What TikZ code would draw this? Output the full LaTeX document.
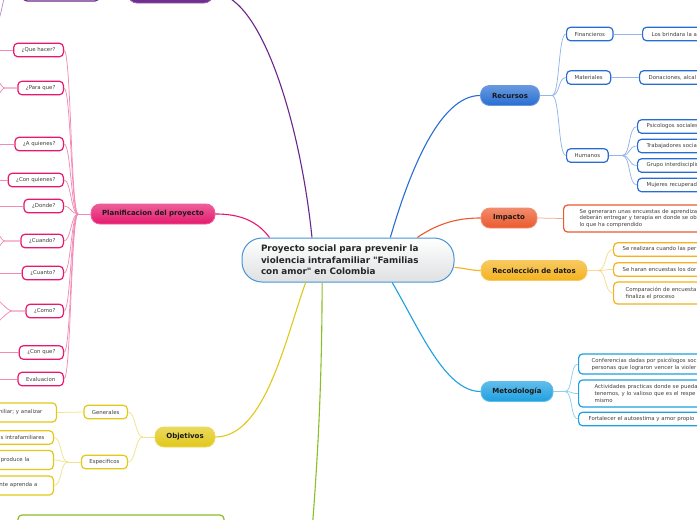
\documentclass[tikz,border=0pt]{standalone}
\usepackage{fontspec}
\setmainfont{DejaVu Sans}
\usetikzlibrary{calc}
\definecolor{mmpurple}{RGB}{106,38,138}
\definecolor{mmpink}{RGB}{230,25,110}
\definecolor{mmblue}{RGB}{40,110,210}
\definecolor{mmorange}{RGB}{235,90,45}
\definecolor{mmamber}{RGB}{245,178,30}
\definecolor{mmsky}{RGB}{30,160,225}
\definecolor{mmyellow}{RGB}{225,200,25}
\definecolor{mmgreen}{RGB}{140,190,40}
\definecolor{corerim}{RGB}{70,150,215}
\definecolor{coregray}{RGB}{222,224,226}
\tikzset{
    core/.style={draw=corerim, line width=1pt, rounded corners=20pt,
                 top color=white, bottom color=coregray,
                 minimum width=212pt, minimum height=44pt,
                 text width=174pt, align=left, text=black!85,
                 font=\fontsize{8.8}{11.5}\selectfont\bfseries},
    topic/.style={draw=#1!70!white, line width=0.8pt, rounded corners=9pt,
                  top color=#1!70!white, bottom color=#1,
                  minimum height=20pt, inner xsep=0pt, text=black!90,
                  font=\fontsize{7}{8}\selectfont\bfseries},
    leaf/.style={draw=#1, line width=1.2pt, rounded corners=4pt, fill=white,
                 minimum height=13.5pt, inner xsep=8pt, inner ysep=2pt,
                 text=black!75, font=\fontsize{5.4}{6.8}\selectfont},
    cutright/.style={anchor=west, text width=180pt, align=left},
    cutleft/.style={anchor=east, text width=90pt, align=right},
    trunk/.style={draw=#1, line width=1.1pt},
    twig/.style={draw=#1!50!white, line width=0.75pt},
}
\begin{document}
\begin{tikzpicture}[x=1pt, y=-1pt]
    \useasboundingbox (0,0) rectangle (697,520);
    \clip (0,0) rectangle (697,520);
    \fill[white] (0,0) rectangle (697,520);

    % centre
    \node[core] (core) at (348,260)
        {Proyecto social para prevenir la\\violencia intrafamiliar \textquotedbl Familias\\con amor\textquotedbl{} en Colombia};

    % main topics
    \node[topic=mmpurple, minimum width=85pt] (ptop) at (170.5,-7) {};
    \node[topic=mmpink, minimum width=124pt] (plan) at (153,214) {Planificacion del proyecto};
    \node[topic=mmyellow, minimum width=60pt] (obj) at (185,437) {Objetivos};
    \node[topic=mmblue, minimum width=59pt] (rec) at (510,95.5) {Recursos};
    \node[topic=mmorange, minimum width=56pt] (imp) at (509,218) {Impacto};
    \node[topic=mmamber, minimum width=106pt] (rd) at (534,270.5) {Recolección de datos};
    \node[topic=mmsky, minimum width=72pt] (met) at (517,391.5) {Metodología};
    \coordinate (gend) at (311,545);

    % purple leaves (cut at the top)
    \node[leaf=mmpurple, minimum width=76pt, minimum height=20pt] (pleaf) at (61,-9) {};
    \coordinate (pleaf-dn) at (-5,28);

    % pink leaves
    \foreach \n/\y/\t in {qhacer/50/{¿Que hacer?}, pque/88/{¿Para que?},
                          aquien/144/{¿A quienes?}, cquien/180/{¿Con quienes?},
                          donde/206/{¿Donde?}, cuando/241/{¿Cuando?},
                          cuanto/273/{¿Cuanto?}, como/311/{¿Como?},
                          cque/352.5/{¿Con que?}, evalua/379/{Evaluacion}}
        \node[leaf=mmpink, anchor=east] (\n) at (64,\y) {\t};
    \coordinate (planfork) at (78,214);
    \foreach \n in {qhacer,aquien,cquien,donde,cuanto,cque,evalua}
        \coordinate (\n-end) at ($(\n.west)+(-30,0)$);
    \coordinate (pque-up) at (-8,72);
    \coordinate (pque-dn) at (-8,104);
    \coordinate (cuando-up) at (-8,225);
    \coordinate (cuando-dn) at (-8,257);
    \coordinate (como-up) at (-8,296);
    \coordinate (como-dn) at (-8,326);

    % yellow leaves
    \node[leaf=mmyellow, anchor=east] (gen) at (128,412) {Generales};
    \node[leaf=mmyellow, anchor=east] (esp) at (128,462) {Especificos};
    \node[leaf=mmyellow, cutleft, minimum height=19pt, inner xsep=14pt] (gen1) at (57,412.5) {miliar; y analizar};
    \node[leaf=mmyellow, cutleft, inner xsep=9pt] (esp1) at (54,437.5) {s intrafamiliares};
    \node[leaf=mmyellow, cutleft, minimum height=19pt, inner xsep=24pt] (esp2) at (54,460) {produce la};
    \node[leaf=mmyellow, cutleft, minimum height=19pt, inner xsep=16pt] (esp3) at (54,485.5) {nte aprenda a};
    \coordinate (objfork) at (143,437);
    \coordinate (espfork) at (68,462);

    % green leaf (cut at the bottom)
    \node[leaf=mmgreen, minimum width=206pt, minimum height=24pt] (gleaf) at (121,527) {};

    % blue leaves
    \node[leaf=mmblue, anchor=west] (fin) at (566,34) {Financieros};
    \node[leaf=mmblue, anchor=west] (mat) at (566,77.5) {Materiales};
    \node[leaf=mmblue, anchor=west] (hum) at (566,155.5) {Humanos};
    \node[leaf=mmblue, cutright, inner xsep=9pt] (fin1) at (642,34) {Los brindara la a};
    \node[leaf=mmblue, cutright, inner xsep=9pt] (mat1) at (639,77.5) {Donaciones, alcal};
    \node[leaf=mmblue, cutright, inner xsep=9pt] (hum1) at (637,126.5) {Psicologos sociales};
    \node[leaf=mmblue, cutright, inner xsep=9pt] (hum2) at (637,146) {Trabajadores socia};
    \node[leaf=mmblue, cutright, inner xsep=9pt] (hum3) at (637,165.5) {Grupo interdisciplin};
    \node[leaf=mmblue, cutright, inner xsep=9pt] (hum4) at (637,185) {Mujeres recuperad};
    \coordinate (recfork) at (552,95.5);
    \coordinate (humfork) at (622,155.5);

    % orange leaf
    \node[leaf=mmorange, cutright, minimum height=27pt, inner xsep=16pt] (imp1) at (563,218.5)
        {Se generaran unas encuestas de aprendiza\\deberán entregar y terapia en donde se ob\\lo que ha comprendido};

    % amber leaves
    \node[leaf=mmamber, cutright, inner xsep=9pt] (rd1) at (613,249.5) {Se realizara cuando las per};
    \node[leaf=mmamber, cutright, inner xsep=9pt] (rd2) at (613,269.5) {Se haran encuestas los dor};
    \node[leaf=mmamber, cutright, minimum height=22pt, inner xsep=12pt] (rd3) at (613,293)
        {Comparación de encuesta\\finaliza el proceso};
    \coordinate (rdfork) at (598,270.5);

    % sky leaves
    \node[leaf=mmsky, cutright, minimum height=20pt, inner xsep=13pt] (met1) at (578,364)
        {Conferencias dadas por psicólogos soc\\personas que lograron vencer la violer};
    \node[leaf=mmsky, cutright, minimum height=27pt, inner xsep=16pt] (met2) at (578,393.5)
        {Actividades practicas donde se pueda\\tenemos, y lo valioso que es el respe\\mismo};
    \node[leaf=mmsky, cutright, inner xsep=10pt] (met3) at (578,419) {Fortalecer el autoestima y amor propio};
    \coordinate (metfork) at (565,391.5);

    % connectors from the centre
    \draw[trunk=mmpurple] (core.148) .. controls (300,120) and (260,-7) .. (ptop.east);
    \draw[trunk=mmpink] (core.164) .. controls (255,218) and (235,214) .. (plan.east);
    \draw[trunk=mmyellow] (core.208) .. controls (285,340) and (265,437) .. (obj.east);
    \draw[trunk=mmgreen] (core.221) .. controls (322,400) and (316,480) .. (gend);
    \draw[trunk=mmblue] (core.28) .. controls (410,170) and (440,95.5) .. (rec.west);
    \draw[trunk=mmorange] (core.18) .. controls (440,222) and (460,218) .. (imp.west);
    \draw[trunk=mmamber] (core.-4) .. controls (465,268) and (470,270.5) .. (rd.west);
    \draw[trunk=mmsky] (core.-27) .. controls (420,330) and (445,391.5) .. (met.west);

    % purple
    \draw[twig=mmpurple] (ptop.west) -- (pleaf.east);
    \draw[twig=mmpurple] (pleaf.west) -- (8,-9) .. controls (3,-9) and (3,15) .. (pleaf-dn);

    % pink
    \draw[twig=mmpink] (plan.west) -- (planfork);
    \foreach \n in {qhacer,pque,aquien,cquien,donde,cuando,cuanto,como,cque,evalua}
        \draw[twig=mmpink] (planfork) .. controls +(-7,0) and +(7,0) .. (\n.east);
    \foreach \n in {qhacer,aquien,cquien,donde,cuanto,cque,evalua}
        \draw[twig=mmpink] (\n.west) -- (\n-end);
    \foreach \n/\x in {pque/5, cuando/5, como/12} {
        \draw[twig=mmpink] (\n.west) -- (\x,0 |- \n.west) .. controls +(-5,0) and +(4,0) .. (\n-up);
        \draw[twig=mmpink] (\n.west) -- (\x,0 |- \n.west) .. controls +(-5,0) and +(4,0) .. (\n-dn);
    }

    % yellow
    \draw[twig=mmyellow] (obj.west) -- (objfork);
    \foreach \n in {gen,esp}
        \draw[twig=mmyellow] (objfork) .. controls +(-8,0) and +(8,0) .. (\n.east);
    \draw[twig=mmyellow] (gen.west) -- (gen1.east);
    \draw[twig=mmyellow] (esp.west) -- (espfork);
    \foreach \n in {esp1,esp2,esp3}
        \draw[twig=mmyellow] (espfork) .. controls +(-8,0) and +(8,0) .. (\n.east);

    % blue
    \draw[twig=mmblue] (rec.east) -- (recfork);
    \foreach \n in {fin,mat,hum}
        \draw[twig=mmblue] (recfork) .. controls +(8,0) and +(-8,0) .. (\n.west);
    \draw[twig=mmblue] (fin.east) -- (fin1.west);
    \draw[twig=mmblue] (mat.east) -- (mat1.west);
    \draw[twig=mmblue] (hum.east) -- (humfork);
    \foreach \n in {hum1,hum2,hum3,hum4}
        \draw[twig=mmblue] (humfork) .. controls +(9,0) and +(-9,0) .. (\n.west);

    % orange
    \draw[twig=mmorange] (imp.east) -- (imp1.west);

    % amber
    \draw[twig=mmamber] (rd.east) -- (rdfork);
    \foreach \n in {rd1,rd2,rd3}
        \draw[twig=mmamber] (rdfork) .. controls +(9,0) and +(-9,0) .. (\n.west);

    % sky
    \draw[twig=mmsky] (met.east) -- (metfork);
    \foreach \n in {met1,met2,met3}
        \draw[twig=mmsky] (metfork) .. controls +(8,0) and +(-8,0) .. (\n.west);
\end{tikzpicture}
\end{document}
